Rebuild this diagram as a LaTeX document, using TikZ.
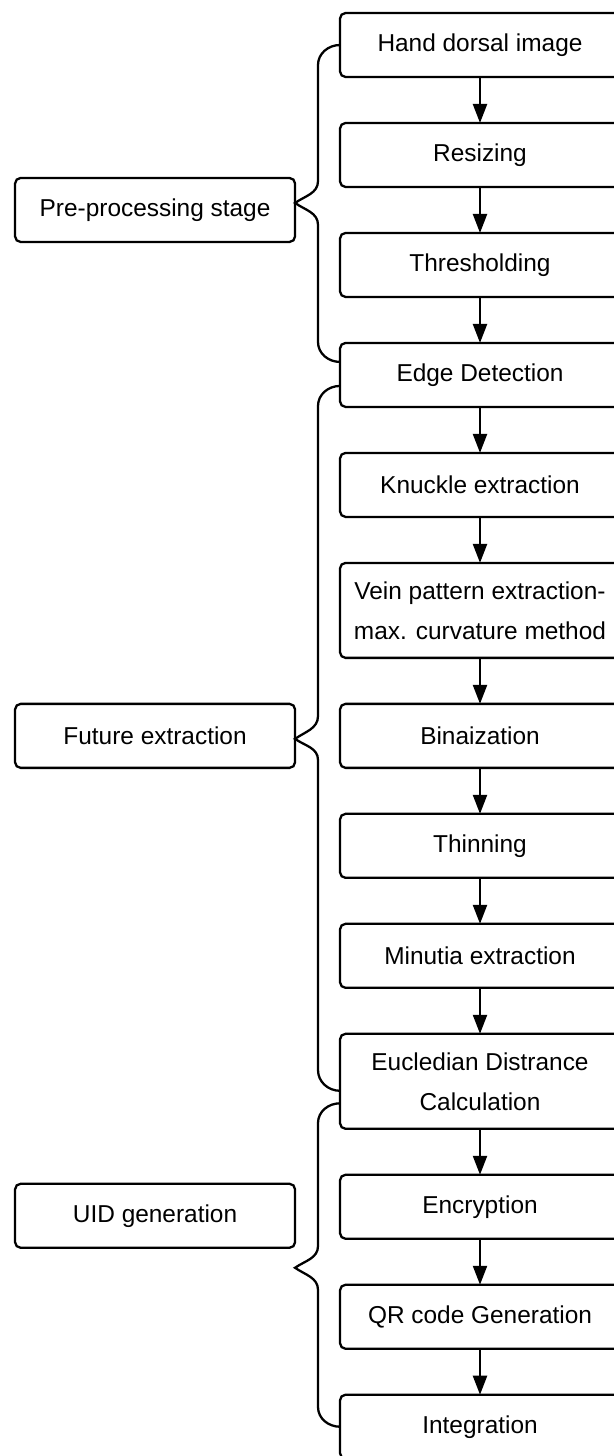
\documentclass[tikz,border=0pt]{standalone}
\usepackage{fontspec}
\setmainfont{Liberation Sans}
\usetikzlibrary{arrows.meta,positioning}

\begin{document}
\begin{tikzpicture}[x=0.02cm,y=-0.02cm,>={Triangle[length=0.38cm,width=0.28cm]},
		node distance=0.92cm,line width=1.3pt,
		task node/.style={draw,rounded corners=0.11cm,minimum width=5.6cm,minimum height=1.28cm,
			inner sep=0pt,outer sep=0pt,align=center,font=\fontsize{13.9}{22.8}\selectfont},
		stage node/.style={task node}]
		\useasboundingbox (0,0) rectangle (613,1456);
		
		% right column
		\node[task node] (hand) at (480,45) {Hand dorsal image};
		\node[task node] (resize) [below=of hand] {Resizing};
		\node[task node] (thresh) [below=of resize] {Thresholding};
		\node[task node] (edge) [below=of thresh] {Edge Detection};
		\node[task node] (knuckle) [below=of edge] {Knuckle extraction};
		\node[task node,minimum height=1.9cm] (vein) [below=of knuckle] {Vein pattern extraction-\\max. curvature method};
		\node[task node] (bin) [below=of vein] {Binaization};
		\node[task node] (thin) [below=of bin] {Thinning};
		\node[task node] (minutia) [below=of thin] {Minutia extraction};
		\node[task node,minimum height=1.9cm] (eucl) [below=of minutia] {Eucledian Distrance\\Calculation};
		\node[task node] (enc) [below=of eucl] {Encryption};
		\node[task node] (qr) [below=of enc] {QR code Generation};
		\node[task node] (integ) [below=of qr] {Integration};
		
		% left column
		\node[stage node] (pre) [left=0.9cm of resize,yshift=-1.1cm] {Pre-processing stage};
		\node[stage node] (fut) [left=0.9cm of bin] {Future extraction};
		\node[stage node] (uid) [left=0.9cm of enc,yshift=-0.18cm] {UID generation};
		
		\path[->]
		(hand) edge (resize)
		(resize) edge (thresh)
		(thresh) edge (edge)
		(edge) edge (knuckle)
		(knuckle) edge (vein)
		(vein) edge (bin)
		(bin) edge (thin)
		(thin) edge (minutia)
		(minutia) edge (eucl)
		(eucl) edge (enc)
		(enc) edge (qr)
		(qr) edge (integ)
		;
		
		% braces
		\draw (hand.west) to[out=180,in=90] (318,65) -- (318,181)
		to[out=-90,in=35] ([yshift=0.14cm]pre.east)
		to[out=-35,in=90] (318,225) -- (318,342)
		to[out=-90,in=180] ([yshift=0.26cm]edge.west);
		\draw ([yshift=-0.22cm]edge.west) to[out=180,in=90] (318,406) -- (318,716)
		to[out=-90,in=35] ([yshift=-0.06cm]fut.east)
		to[out=-35,in=90] (318,760) -- (318,1070)
		to[out=-90,in=180] ([yshift=-0.19cm]eucl.west);
		\draw ([yshift=-0.44cm]eucl.west) to[out=180,in=90] (318,1123) -- (318,1246)
		to[out=-90,in=35] ([yshift=-1.04cm]uid.east)
		to[out=-35,in=90] (318,1290) -- (318,1407)
		to[out=-90,in=180] (integ.west);
\end{tikzpicture}
\end{document}
